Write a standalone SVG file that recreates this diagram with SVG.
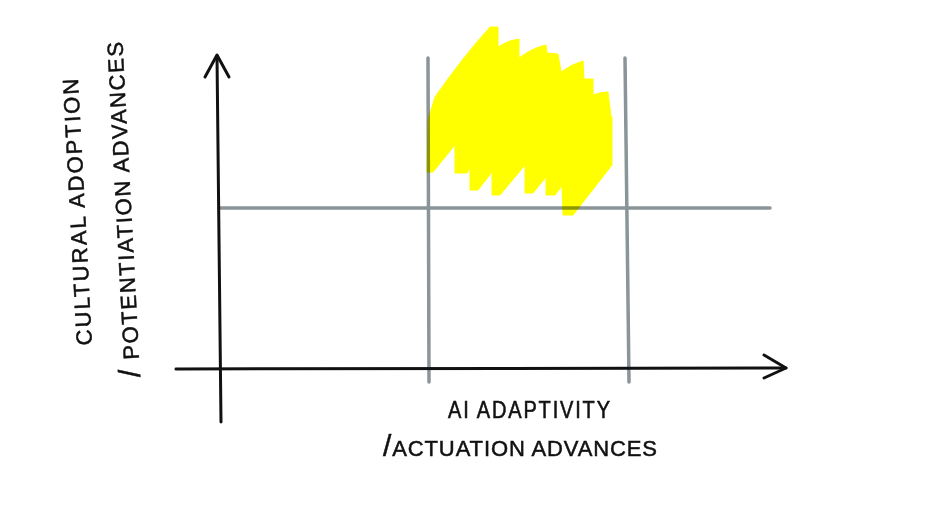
<svg xmlns="http://www.w3.org/2000/svg" width="930" height="517" viewBox="0 0 930 517">
  <style>
    .axis { stroke: #111; stroke-width: 3; fill: none; stroke-linecap: round; stroke-linejoin: round; }
    .grid { stroke: #8a9598; stroke-width: 3.5; fill: none; stroke-linecap: round; }
    .lbl { font-family: "Liberation Sans", "DejaVu Sans", sans-serif; fill: #111; stroke: #111; stroke-width: 0.5; }
    .hl { fill: #ffff00; stroke: #ffff00; stroke-width: 1; stroke-linejoin: round; mix-blend-mode: multiply; }
  </style>
  <rect width="930" height="517" fill="#ffffff"/>
  <g id="connectors">
    <g id="grid-lines">
      <line class="grid" x1="428" y1="58" x2="429" y2="382"/>
      <line class="grid" x1="625" y1="58" x2="629" y2="382"/>
      <line class="grid" x1="219" y1="208" x2="770" y2="208"/>
    </g>
    <g id="y-axis">
      <line class="axis" x1="217" y1="56" x2="221" y2="422"/>
      <polyline class="axis" points="205,77 217,55 229,77"/>
    </g>
    <g id="x-axis">
      <line class="axis" x1="176" y1="369" x2="786" y2="368"/>
      <polyline class="axis" points="764,355 786,368 764,378"/>
    </g>
  </g>
  <g id="highlight">
    <path class="hl" d="M428,120 L435,97 Q462,58 490,27 L498,27 L498,47 Q508,40 519,39 L519,58 Q532,48 546,45 L547,53 L558,54 L561,72 Q572,64 583,61 L584,79 L593,79 L593,95 Q600,92 608,92 L611,117 L612,117 L612,165 L573,215 L563,215 L562,186 L555,195 L546,195 L546,177 L533,193 L525,193 L525,165 L500,195 L492,195 L492,172 L478,190 L470,190 L470,168 L467,173 L455,173 L455,145 L433,172 L427,172 Z"/>
  </g>
  <g id="y-label">
    <text class="lbl" font-size="22" transform="translate(92,345) rotate(-93)" textLength="267" lengthAdjust="spacing">CULTURAL ADOPTION</text>
    <text class="lbl" font-size="22" transform="translate(140,377) rotate(-93)" textLength="336" lengthAdjust="spacing"><tspan font-size="30">/</tspan> POTENTIATION ADVANCES</text>
  </g>
  <g id="x-label">
    <text class="lbl" font-size="20" transform="translate(448,418) scale(1,1.15)" textLength="162" lengthAdjust="spacing">AI ADAPTIVITY</text>
    <text class="lbl" font-size="22" x="383" y="456" textLength="274" lengthAdjust="spacing"><tspan font-size="30">/</tspan>ACTUATION ADVANCES</text>
  </g>
</svg>
